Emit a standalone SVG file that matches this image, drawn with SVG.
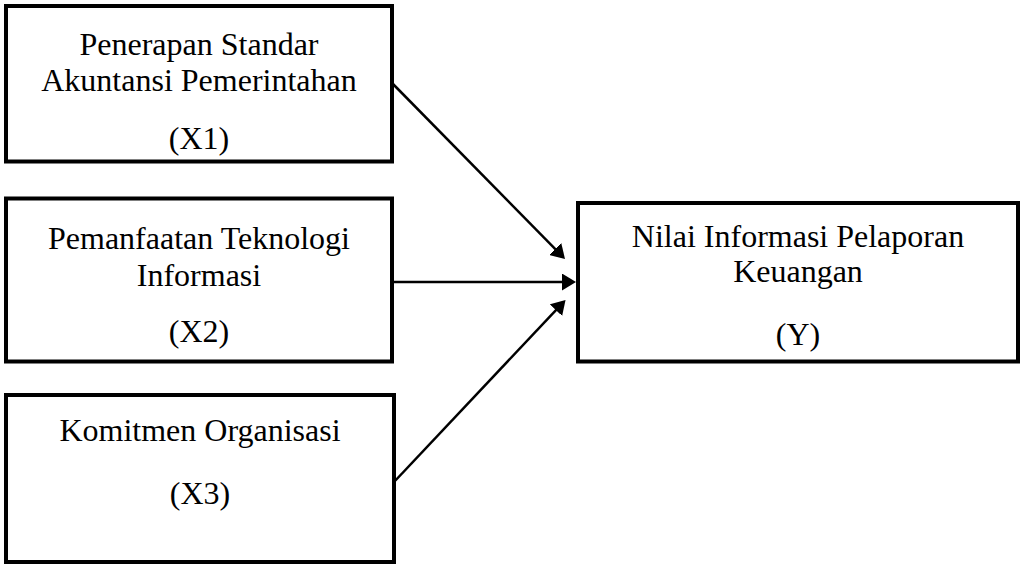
<svg xmlns="http://www.w3.org/2000/svg" width="1021" height="567" viewBox="0 0 1021 567">
  <style>
    .box { fill: #ffffff; stroke: #000000; stroke-width: 4; }
    .lbl { font-family: "Liberation Serif", "Times New Roman", serif; font-size: 32px; fill: #000000; text-anchor: middle; }
    .conn { stroke: #000000; stroke-width: 2.5; fill: none; marker-end: url(#arrow); }
  </style>
  <defs>
    <marker id="arrow" viewBox="0 0 14 17" refX="10" refY="8.5" markerWidth="14" markerHeight="17" markerUnits="userSpaceOnUse" orient="auto">
      <path d="M0,0 L14,8.5 L0,17 Z" fill="#000000"/>
    </marker>
  </defs>
  <rect width="1021" height="567" fill="#ffffff"/>
  <g id="node-x1">
    <rect class="box" x="6" y="6" width="386" height="155.5"/>
    <text class="lbl" x="199" y="55">Penerapan Standar</text>
    <text class="lbl" x="199" y="91">Akuntansi Pemerintahan</text>
    <text class="lbl" x="199" y="149">(X1)</text>
  </g>
  <g id="node-x2">
    <rect class="box" x="6" y="198.5" width="386" height="163"/>
    <text class="lbl" x="199" y="249">Pemanfaatan Teknologi</text>
    <text class="lbl" x="199" y="286">Informasi</text>
    <text class="lbl" x="199" y="342">(X2)</text>
  </g>
  <g id="node-x3">
    <rect class="box" x="6" y="395" width="388" height="167"/>
    <text class="lbl" x="200" y="441">Komitmen Organisasi</text>
    <text class="lbl" x="200" y="504">(X3)</text>
  </g>
  <g id="node-y">
    <rect class="box" x="578" y="203" width="440" height="158.5"/>
    <text class="lbl" x="798" y="247">Nilai Informasi Pelaporan</text>
    <text class="lbl" x="798" y="282">Keuangan</text>
    <text class="lbl" x="798" y="345">(Y)</text>
  </g>
  <g id="connectors">
    <line class="conn" x1="392" y1="83" x2="562.2" y2="256.1"/>
    <line class="conn" x1="392" y1="282" x2="572" y2="282"/>
    <line class="conn" x1="394" y1="482" x2="562.8" y2="302.9"/>
  </g>
</svg>
